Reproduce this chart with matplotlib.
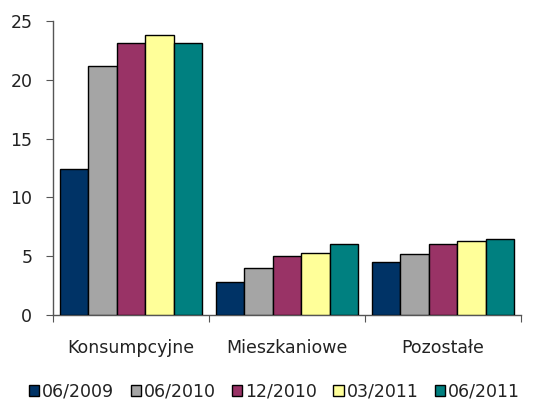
import numpy as np
import matplotlib
matplotlib.use('Agg')
import matplotlib.pyplot as plt
from matplotlib.patches import Patch

# ── Data ───────────────────────────────────────────────────────────────────────
categories = ['Konsumpcyjne', 'Mieszkaniowe', 'Pozostałe']
periods = ['06/2009', '06/2010', '12/2010', '03/2011', '06/2011']
val_06_2009 = [12.4, 2.8, 4.5]
val_06_2010 = [21.2, 4.0, 5.2]
val_12_2010 = [23.1, 5.0, 6.05]
val_03_2011 = [23.8, 5.3, 6.3]
val_06_2011 = [23.1, 6.05, 6.5]
yticks = [0, 5, 10, 15, 20, 25]

series = [val_06_2009, val_06_2010, val_12_2010, val_03_2011, val_06_2011]
colors = ['#003366', '#A5A5A5', '#993366', '#FFFF99', '#008080']

plt.rcParams['font.family'] = ['DejaVu Sans']
FS = 12.5

fig = plt.figure(figsize=(5.6, 4.0), dpi=100)
ax = fig.add_axes([0.095, 0.2125, 0.835, 0.735])

x = np.arange(len(categories))
bw = 0.183
for i, (vals, col) in enumerate(zip(series, colors)):
    ax.bar(x + (i - 2) * bw, vals, width=bw, color=col, edgecolor='black',
           linewidth=1.0, zorder=3)

ax.set_xlim(-0.5, len(categories) - 0.5)
ax.set_ylim(0, 25)
ax.set_yticks(yticks)
ax.set_yticklabels([str(t) for t in yticks], fontsize=FS, color='#222222')

# category boundaries as tick marks, labels centred in between
ax.set_xticks(np.arange(len(categories) + 1) - 0.5)
ax.set_xticklabels([])
ax.set_xticks(x, minor=True)
ax.set_xticklabels(categories, minor=True, fontsize=FS, color='#222222')
ax.tick_params(axis='x', which='minor', length=0, pad=17)
ax.tick_params(axis='x', which='major', length=5, color='#555555')
ax.tick_params(axis='y', length=5, color='#555555', pad=10)

for side in ['top', 'right']:
    ax.spines[side].set_visible(False)
for side in ['left', 'bottom']:
    ax.spines[side].set_color('#555555')
    ax.spines[side].set_linewidth(1.0)

handles = [Patch(facecolor=c, edgecolor='black', linewidth=1.0) for c in colors]
fig.legend(handles, periods, loc='center', bbox_to_anchor=(0.49, 0.022),
           ncol=5, frameon=False, fontsize=FS, handlelength=0.6,
           handleheight=0.6, handletextpad=0.15, columnspacing=0.95,
           labelcolor='#222222', borderpad=0.2)

fig.savefig('out.png', dpi=100)
